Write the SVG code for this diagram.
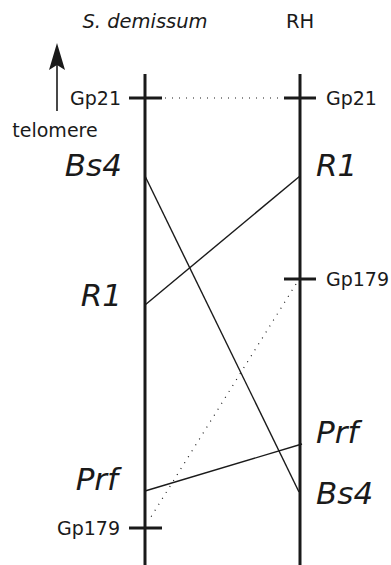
<svg xmlns="http://www.w3.org/2000/svg" width="391" height="565" viewBox="0 0 391 565">
<style>
text{font-family:"DejaVu Sans",sans-serif;fill:#1a1a1a}
.hdr{font-size:19.5px}
.it{font-style:italic}
.mk{font-size:19px}
.gene{font-size:31px;font-style:italic}
.axis{stroke:#1a1a1a;stroke-width:3;fill:none}
.tick{stroke:#1a1a1a;stroke-width:3}
.link{stroke:#1a1a1a;stroke-width:1.4;fill:none}
.dot{stroke:#1a1a1a;stroke-width:1.2;stroke-dasharray:1 6;fill:none}
</style>
<g id="headers">
<text class="hdr it" x="145" y="28" text-anchor="middle">S. demissum</text>
<text class="hdr" x="300" y="28" text-anchor="middle">RH</text>
</g>
<g id="telomere">
<line x1="57" y1="111" x2="57" y2="62" stroke="#1a1a1a" stroke-width="1.6"/>
<path d="M57 43 L65 70 L57 65 L49 70 Z" fill="#1a1a1a"/>
<text class="mk" x="55" y="137" text-anchor="middle">telomere</text>
</g>
<g id="left-chrom">
<line class="axis" x1="145" y1="74" x2="145" y2="565"/>
<line class="tick" x1="129" y1="98" x2="162" y2="98"/>
<text class="mk" x="121" y="105" text-anchor="end">Gp21</text>
<line class="tick" x1="129" y1="528" x2="162" y2="528"/>
<text class="mk" x="120" y="535" text-anchor="end">Gp179</text>
<text class="gene" x="122" y="176" text-anchor="end">Bs4</text>
<text class="gene" x="122" y="306" text-anchor="end">R1</text>
<text class="gene" x="118" y="490" text-anchor="end">Prf</text>
</g>
<g id="right-chrom">
<line class="axis" x1="300" y1="74" x2="300" y2="565"/>
<line class="tick" x1="284" y1="98" x2="316" y2="98"/>
<text class="mk" x="326" y="105">Gp21</text>
<line class="tick" x1="284" y1="279" x2="316" y2="279"/>
<text class="mk" x="326" y="286">Gp179</text>
<text class="gene" x="316" y="176">R1</text>
<text class="gene" x="316" y="443">Prf</text>
<text class="gene" x="316" y="504">Bs4</text>
</g>
<g id="connectors">
<line class="dot" x1="165" y1="98" x2="284" y2="98"/>
<line class="link" x1="145" y1="176" x2="299" y2="492"/>
<line class="link" x1="300" y1="176" x2="145" y2="305"/>
<line class="link" x1="302" y1="444" x2="145" y2="491"/>
<line class="dot" x1="296" y1="284" x2="149" y2="520"/>
</g>
</svg>
